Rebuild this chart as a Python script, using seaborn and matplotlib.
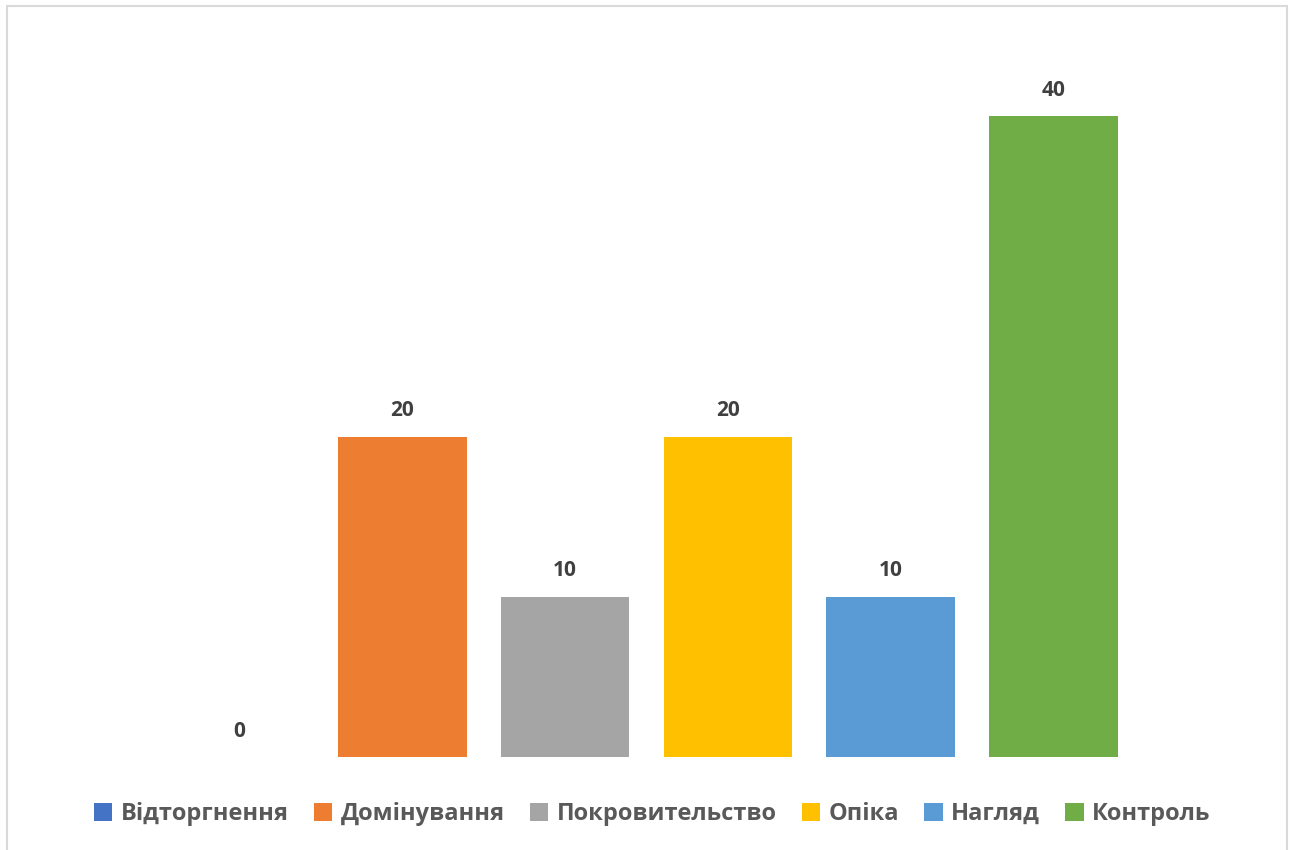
import matplotlib
matplotlib.use("Agg")
import matplotlib.pyplot as plt
import seaborn as sns
import pandas as pd
from matplotlib.patches import Patch, Rectangle

categories = ["Відторгнення", "Домінування", "Покровительство", "Опіка", "Нагляд", "Контроль"]
values = [0, 20, 10, 20, 10, 40]
colors = ["#4472C4", "#ED7D31", "#A5A5A5", "#FFC000", "#5B9BD5", "#70AD47"]

sns.set_theme(style="white")
plt.rcParams['font.family'] = ['Open Sans', 'DejaVu Sans']

df = pd.DataFrame({"cat": categories, "val": values})

W, H = 1290, 850
fig = plt.figure(figsize=(W / 100, H / 100), dpi=100)
# axes in pixel coords: x 158..1135, y 36..757 (top-down)
x0, x1 = 158, 1135
y_top, y_bot = 36, 757
ax = fig.add_axes([x0 / W, 1 - y_bot / H, (x1 - x0) / W, (y_bot - y_top) / H])

sns.barplot(data=df, x="cat", y="val", hue="cat", palette=colors, dodge=False,
            width=0.79, legend=False, ax=ax, saturation=1, linewidth=0)
ax.set_ylim(0, 45)
ax.set_xlim(-0.5, 5.5)
ax.set_axis_off()

for cont in ax.containers:
    ax.bar_label(cont, padding=11, fontsize=15, fontweight="bold", color="#404040")

handles = [Patch(facecolor=c, edgecolor="none", label=l) for c, l in zip(colors, categories)]
leg = fig.legend(handles=handles, loc="center", bbox_to_anchor=(0.5 + 7 / W, 1 - 814 / H),
                 ncol=6, frameon=False, handlelength=0.8, handleheight=0.8,
                 handletextpad=0.35, columnspacing=1.05,
                 prop={"size": 17, "weight": "bold"})
for t in leg.get_texts():
    t.set_color("#595959")

fig.patches.append(Rectangle((6.5 / W, -0.1), (1287 - 6.5) / W, 1.1 - 6.5 / H,
                             transform=fig.transFigure, fill=False,
                             edgecolor="#D9D9D9", linewidth=1.5))

fig.savefig("out.png", dpi=100, facecolor="white")
